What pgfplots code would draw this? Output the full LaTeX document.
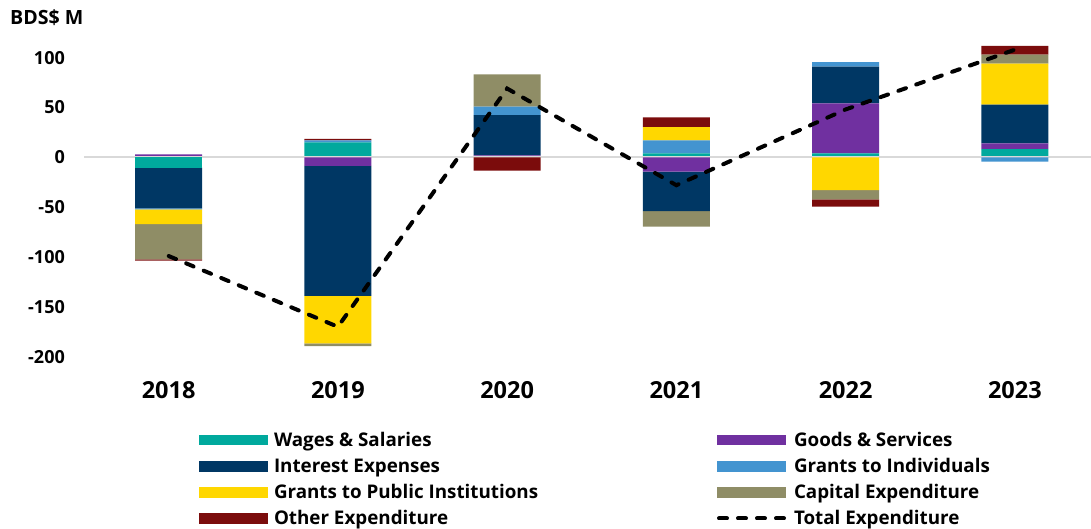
\documentclass[border=0pt]{standalone}
\usepackage{fontspec}
\setmainfont{Open Sans}
\usepackage{pgfplots}
\usepackage{pgfplotstable}
\pgfplotsset{compat=1.18}
\definecolor{cWag}{RGB}{0,169,157}
\definecolor{cGoo}{RGB}{112,48,160}
\definecolor{cInt}{RGB}{0,55,100}
\definecolor{cInd}{RGB}{67,148,208}
\definecolor{cPub}{RGB}{255,215,0}
\definecolor{cCap}{RGB}{143,141,102}
\definecolor{cOth}{RGB}{123,12,12}
\definecolor{zline}{RGB}{217,217,217}

\pgfplotstableread{
x wag goo int ind pub cap oth
0 0 3 0 0 0 0 0
1 15 0 0 2.1 0 0 1.3
2 0 2 40.4 8.4 0 32.4 0
3 4 0 0 13.1 13.3 0 9.7
4 4 50.2 36.7 4.7 0 0 0
5 8.3 5.7 38.8 0 41.1 9 9
}\postab
\pgfplotstableread{
x wag goo int ind pub cap oth
0 -10.4 0 -40.8 -1 -14.7 -35.4 -1.4
1 0 -8.7 -130.4 0 -47.5 -2.7 0
2 0 0 0 0 0 0 -13.4
3 0 -14.4 -39.5 0 0 -15.7 0
4 0 0 0 0 -32.8 -9.3 -7.4
5 0 0 0 -4.4 0 0 0
}\negtab
\pgfplotstableread{
x tot
0 -99
1 -170
2 69
3 -28
4 48
5 108
}\tottab

\pgfplotsset{
  mygeom/.style={
    scale only axis, width=1007pt, height=319pt,
    at={(84pt,172.3pt)}, anchor=south west,
    xmin=-0.5, xmax=5.45, ymin=-200, ymax=120, clip=false,
  },
  mybase/.style={mygeom, ybar stacked, bar width=67pt},
  barleg/.style={legend image code/.code={\fill[##1] (0pt,0.8pt) rectangle (69pt,11.5pt); \path (75pt,0pt);}},
  lineleg/.style={legend image code/.code={\draw[##1] (2pt,6.1pt) -- (67pt,6.1pt); \path (75pt,0pt);}},
}

\begin{document}
\begin{tikzpicture}
\path[use as bounding box] (0,0) rectangle (1091pt,529pt);
\node[anchor=base west, inner sep=0pt, font=\fontsize{19.6}{22}\selectfont\bfseries] at (10pt,504pt) {BDS\$ M};

\begin{axis}[mybase,
  axis line style={draw=none}, tick style={draw=none}, major tick length=0pt,
  xtick={0,1,2,3,4,5}, xticklabels={2018,2019,2020,2021,2022,2023},
  ytick={-200,-150,-100,-50,0,50,100},
  yticklabels={-200,-150,-100,-50,0,50,100},
  xticklabel style={font=\fontsize{23.5}{26}\selectfont\bfseries, inner sep=0pt, anchor=north, yshift=-25pt},
  yticklabel style={font=\fontsize{18}{20}\selectfont\bfseries, inner sep=0pt, anchor=east, xshift=-19pt},
]
\addplot[fill=cWag, draw=none] table[x=x,y=wag]{\postab};
\addplot[fill=cGoo, draw=none] table[x=x,y=goo]{\postab};
\addplot[fill=cInt, draw=none] table[x=x,y=int]{\postab};
\addplot[fill=cInd, draw=none] table[x=x,y=ind]{\postab};
\addplot[fill=cPub, draw=none] table[x=x,y=pub]{\postab};
\addplot[fill=cCap, draw=none] table[x=x,y=cap]{\postab};
\addplot[fill=cOth, draw=none] table[x=x,y=oth]{\postab};
\end{axis}

\begin{axis}[mybase,
  axis lines=none, xtick=\empty, ytick=\empty,
  legend columns=2,
  legend cell align=left,
  legend style={draw=none, fill=none, inner sep=0pt, outer sep=0pt,
    at={(axis description cs:0.1142,-0.236)}, anchor=north west,
    font=\fontsize{18.8}{20}\selectfont\bfseries,
    nodes={inner sep=0pt, anchor=base west}, row sep=10.3pt, column sep=0pt},
]
\addplot[fill=cWag, draw=none, barleg] table[x=x,y=wag]{\negtab};
\addlegendentry{\makebox[443pt][l]{Wages \& Salaries}}
\addplot[fill=cGoo, draw=none, barleg] table[x=x,y=goo]{\negtab};
\addlegendentry{Goods \& Services}
\addplot[fill=cInt, draw=none, barleg] table[x=x,y=int]{\negtab};
\addlegendentry{\makebox[443pt][l]{Interest Expenses}}
\addplot[fill=cInd, draw=none, barleg] table[x=x,y=ind]{\negtab};
\addlegendentry{Grants to Individuals}
\addplot[fill=cPub, draw=none, barleg] table[x=x,y=pub]{\negtab};
\addlegendentry{\makebox[443pt][l]{Grants to Public Institutions}}
\addplot[fill=cCap, draw=none, barleg] table[x=x,y=cap]{\negtab};
\addlegendentry{Capital Expenditure}
\addplot[fill=cOth, draw=none, barleg] table[x=x,y=oth]{\negtab};
\addlegendentry{\makebox[443pt][l]{Other Expenditure}}
\addlegendimage{black, line width=4pt, dash pattern=on 8pt off 11pt, line cap=round, lineleg}
\addlegendentry{Total Expenditure}
\draw[color=zline, line width=2pt] (axis cs:-0.5,0) -- (axis cs:5.45,0);
\end{axis}

\begin{axis}[mygeom, axis lines=none, xtick=\empty, ytick=\empty]
\addplot[sharp plot, black, line width=4pt, dash pattern=on 8pt off 11pt, line cap=round, mark=none]
  table[x=x,y=tot]{\tottab};
\end{axis}
\end{tikzpicture}
\end{document}
